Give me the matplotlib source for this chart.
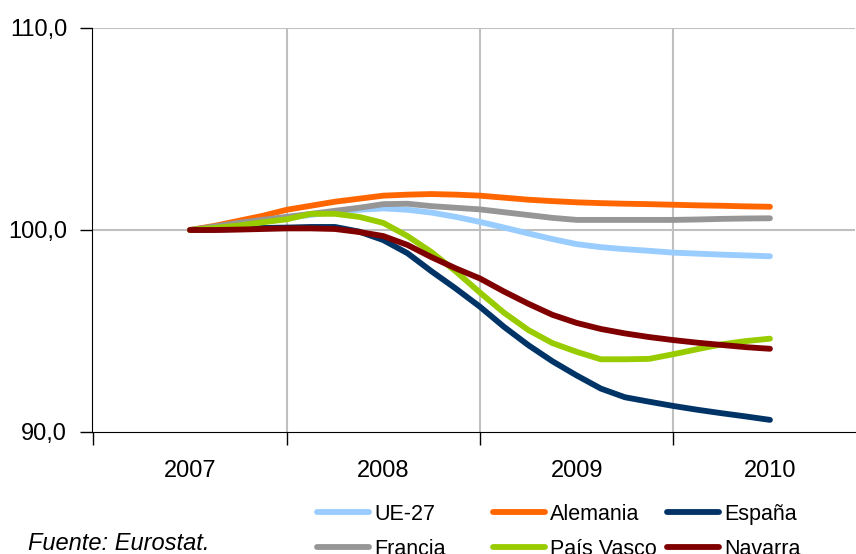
import matplotlib.pyplot as plt
from matplotlib.ticker import FixedLocator, NullFormatter

plt.rcParams['font.family'] = ['Liberation Sans', 'DejaVu Sans']

# eje x en años (0 = 2007 ... 3 = 2010), paso de 1,5 meses
x = [0, 0.125, 0.25, 0.375, 0.5, 0.625, 0.75, 0.875, 1.0, 1.125, 1.25, 1.375, 1.5,
     1.625, 1.75, 1.875, 2.0, 2.125, 2.25, 2.375, 2.5, 2.625, 2.75, 2.875, 3.0]
years = ['2007', '2008', '2009', '2010']

ue27 = [100.0, 100.15, 100.3, 100.45, 100.6, 100.75, 100.9, 101.0, 101.07, 101.0, 100.86, 100.65, 100.4,
        100.12, 99.83, 99.55, 99.3, 99.15, 99.05, 98.97, 98.88, 98.83, 98.78, 98.74, 98.7]
alemania = [100.0, 100.2, 100.45, 100.7, 101.0, 101.2, 101.4, 101.55, 101.7, 101.75, 101.78, 101.75, 101.7,
            101.6, 101.5, 101.43, 101.37, 101.33, 101.3, 101.28, 101.25, 101.22, 101.2, 101.17, 101.15]
espana = [100.0, 100.02, 100.05, 100.1, 100.12, 100.15, 100.15, 99.92, 99.5, 98.85, 97.95, 97.1, 96.2,
          95.2, 94.3, 93.5, 92.8, 92.15, 91.72, 91.5, 91.29, 91.1, 90.93, 90.77, 90.6]
francia = [100.0, 100.17, 100.35, 100.5, 100.65, 100.8, 100.95, 101.1, 101.28, 101.3, 101.18, 101.1, 101.02,
           100.88, 100.74, 100.6, 100.5, 100.5, 100.5, 100.5, 100.5, 100.52, 100.55, 100.57, 100.58]
pais_vasco = [100.0, 100.1, 100.22, 100.38, 100.53, 100.8, 100.8, 100.65, 100.35, 99.7, 98.9, 97.95, 96.9,
              95.9, 95.05, 94.4, 93.97, 93.6, 93.6, 93.62, 93.85, 94.1, 94.34, 94.5, 94.62]
navarra = [100.0, 100.0, 100.02, 100.05, 100.08, 100.08, 100.05, 99.9, 99.7, 99.26, 98.65, 98.1, 97.6,
           96.95, 96.35, 95.8, 95.4, 95.1, 94.88, 94.7, 94.55, 94.42, 94.31, 94.2, 94.12]

series = [
    ('UE-27', ue27, '#99CCFF'),
    ('Alemania', alemania, '#FF6600'),
    ('España', espana, '#003366'),
    ('Francia', francia, '#969696'),
    ('País Vasco', pais_vasco, '#99CC00'),
    ('Navarra', navarra, '#800000'),
]

fig = plt.figure(figsize=(8.56, 5.54), dpi=100)
ax = fig.add_axes([92 / 856, 1 - 432 / 554, 763 / 856, 404 / 554])

lines = {}
for name, vals, col in series:
    ln, = ax.plot(x, vals, color=col, lw=4.2, solid_capstyle='round',
                  solid_joinstyle='round', label=name, zorder=3)
    lines[name] = ln

ax.set_xlim(-0.507, 3.44)
ax.set_ylim(90, 110)

# rejilla y ticks
ax.xaxis.set_major_locator(FixedLocator([-0.5, 0.5, 1.5, 2.5]))
ax.xaxis.set_major_formatter(NullFormatter())
ax.xaxis.set_minor_locator(FixedLocator([0, 1, 2, 3]))
ax.set_xticklabels(years, minor=True)
ax.tick_params(axis='x', which='major', length=9, width=1, direction='out', color='black')
ax.tick_params(axis='x', which='minor', length=0, pad=20, labelsize=17)
ax.set_yticks([90, 100, 110])
ax.set_yticklabels(['90,0', '100,0', '110,0'])
ax.tick_params(axis='y', length=9, width=1, direction='out', pad=9, labelsize=17)

for xv in [0.5, 1.5, 2.5]:
    ax.axvline(xv, color='#C0C0C0', lw=1.5, zorder=1)
for yv in [100, 110]:
    ax.axhline(yv, color='#C0C0C0', lw=1.5, zorder=1)

for s in ['top', 'right']:
    ax.spines[s].set_visible(False)
ax.spines['left'].set_color('black')
ax.spines['bottom'].set_color('black')

# leyenda: tres columnas colocadas a mano
columns = [('UE-27', 'Francia'), ('Alemania', 'País Vasco'), ('España', 'Navarra')]
col_x = [317, 493, 667]
for names, cx in zip(columns, col_x):
    leg = fig.legend([lines[n] for n in names], names, loc='upper left',
                     bbox_to_anchor=(cx / 856, 1 - 504 / 554), frameon=False, fontsize=15.5,
                     handlelength=2.4, handletextpad=0.25, labelspacing=0.65,
                     borderpad=0, borderaxespad=0)

fig.text(28 / 856, 1 - 543 / 554, 'Fuente: Eurostat.', style='italic', fontsize=17,
         va='center', ha='left')

fig.savefig('out.png', dpi=100)
